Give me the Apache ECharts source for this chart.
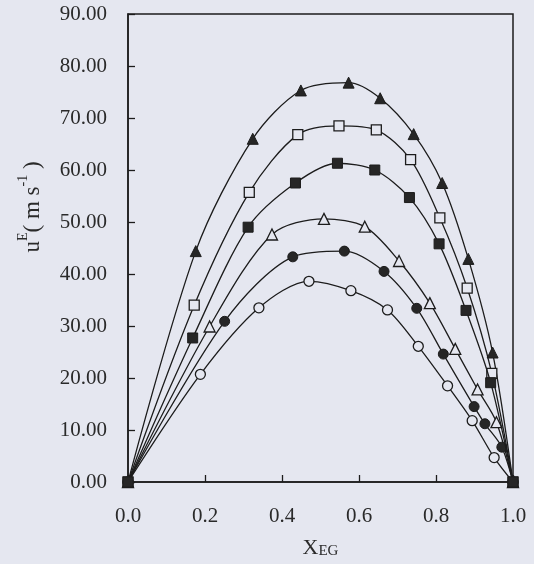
<!DOCTYPE html>
<html>
<head>
<meta charset="utf-8">
<script src="https://cdn.jsdelivr.net/npm/echarts@6/dist/echarts.min.js"></script>
<style>
html,body{margin:0;padding:0;background:#e5e7f0;}
#c{width:534px;height:564px;}
</style>
</head>
<body>
<div id="c"></div>
<script>
// x ticks / y ticks
var xTicks = [0, 0.2, 0.4, 0.6, 0.8, 1.0];
var yTicks = [0, 10, 20, 30, 40, 50, 60, 70, 80, 90];

// Series 1: filled triangles
var xTriFilled = [0, 0.176, 0.324, 0.449, 0.573, 0.655, 0.742, 0.816, 0.884, 0.947, 1];
var uTriFilled = [0, 44.4, 66.0, 75.3, 76.8, 73.8, 66.9, 57.5, 42.9, 24.9, 0];
// Series 2: open squares
var xSqOpen = [0, 0.172, 0.315, 0.441, 0.548, 0.645, 0.734, 0.810, 0.881, 0.945, 1];
var uSqOpen = [0, 34.0, 55.7, 66.8, 68.5, 67.7, 62.0, 50.8, 37.3, 20.9, 0];
// Series 3: filled squares
var xSqFilled = [0, 0.168, 0.312, 0.435, 0.544, 0.641, 0.731, 0.808, 0.878, 0.942, 1];
var uSqFilled = [0, 27.7, 49.0, 57.5, 61.3, 60.0, 54.7, 45.8, 33.0, 19.1, 0];
// Series 4: open triangles
var xTriOpen = [0, 0.212, 0.374, 0.509, 0.615, 0.704, 0.784, 0.850, 0.908, 0.957, 1];
var uTriOpen = [0, 29.9, 47.6, 50.6, 49.1, 42.5, 34.4, 25.6, 17.8, 11.5, 0];
// Series 5: filled circles
var xCirFilled = [0, 0.251, 0.428, 0.562, 0.665, 0.750, 0.819, 0.899, 0.927, 0.971, 1];
var uCirFilled = [0, 30.9, 43.3, 44.4, 40.5, 33.4, 24.6, 14.5, 11.2, 6.7, 0];
// Series 6: open circles
var xCirOpen = [0, 0.188, 0.340, 0.470, 0.579, 0.674, 0.754, 0.830, 0.894, 0.951, 1];
var uCirOpen = [0, 20.7, 33.5, 38.6, 36.8, 33.1, 26.1, 18.5, 11.8, 4.7, 0];

var BG = '#e5e7f0';
var INK = '#1c1c1c';
var TXT = '#2a2a2a';
var FONT = 'Liberation Serif';

function pairs(xs, ys) { return xs.map(function (x, i) { return [x, ys[i]]; }); }

function mk(xs, ys, symbol, size, filled, z) {
  return {
    type: 'line',
    data: pairs(xs, ys),
    smooth: 0.3,
    symbol: symbol,
    symbolSize: size,
    showAllSymbol: true,
    z: z || 2,
    lineStyle: { color: INK, width: 1.3 },
    itemStyle: filled ? { color: '#262626', borderColor: INK, borderWidth: 1 }
                      : { color: BG, borderColor: INK, borderWidth: 1.3 },
    emphasis: { disabled: true },
    animation: false
  };
}

var chart = echarts.init(document.getElementById('c'), null, { renderer: 'canvas' });
chart.setOption({
  backgroundColor: BG,
  animation: false,
  grid: { left: 128, right: 21, top: 14, bottom: 81, show: true, borderColor: INK, borderWidth: 1.5, backgroundColor: 'transparent' },
  xAxis: {
    type: 'value', min: xTicks[0], max: xTicks[xTicks.length - 1], interval: 0.2,
    axisLine: { lineStyle: { color: INK, width: 1.5 } },
    axisTick: { inside: true, length: 7, lineStyle: { color: INK, width: 1.3 } },
    axisLabel: { margin: 24, color: TXT, fontFamily: FONT, fontSize: 21, formatter: function (v) { return v.toFixed(1); } },
    splitLine: { show: false },
    name: '{x|X}{sub|EG}',
    nameLocation: 'middle', nameGap: 55,
    nameTextStyle: {
      rich: {
        x: { fontFamily: FONT, fontSize: 22, color: TXT, lineHeight: 22, verticalAlign: 'top' },
        sub: { fontFamily: FONT, fontSize: 15, color: TXT, lineHeight: 15, verticalAlign: 'bottom', padding: [10, 0, 0, 0] }
      }
    }
  },
  yAxis: {
    type: 'value', min: yTicks[0], max: yTicks[yTicks.length - 1], interval: 10,
    axisLine: { lineStyle: { color: INK, width: 1.5 } },
    axisTick: { inside: true, length: 7, lineStyle: { color: INK, width: 1.3 } },
    axisLabel: { margin: 21, color: TXT, fontFamily: FONT, fontSize: 21, formatter: function (v) { return v.toFixed(2); } },
    splitLine: { show: false },
    name: '{n|u}{s|E}{n|( m s}{s|-1}{n| )}',
    nameLocation: 'middle', nameGap: 84,
    nameTextStyle: {
      padding: [0, 0, 0, 82],
      rich: {
        n: { fontFamily: FONT, fontSize: 23, color: TXT, lineHeight: 28, verticalAlign: 'bottom' },
        s: { fontFamily: FONT, fontSize: 14, color: TXT, lineHeight: 14, verticalAlign: 'top' }
      }
    }
  },
  series: [
    mk(xCirOpen, uCirOpen, 'circle', 10, false, 2),
    mk(xCirFilled, uCirFilled, 'circle', 10, true, 2),
    mk(xTriOpen, uTriOpen, 'triangle', 11, false, 2),
    mk(xSqOpen, uSqOpen, 'rect', 10, false, 2),
    mk(xTriFilled, uTriFilled, 'triangle', 11, true, 2),
    mk(xSqFilled, uSqFilled, 'rect', 10, true, 3)
  ]
});
</script>
</body>
</html>
